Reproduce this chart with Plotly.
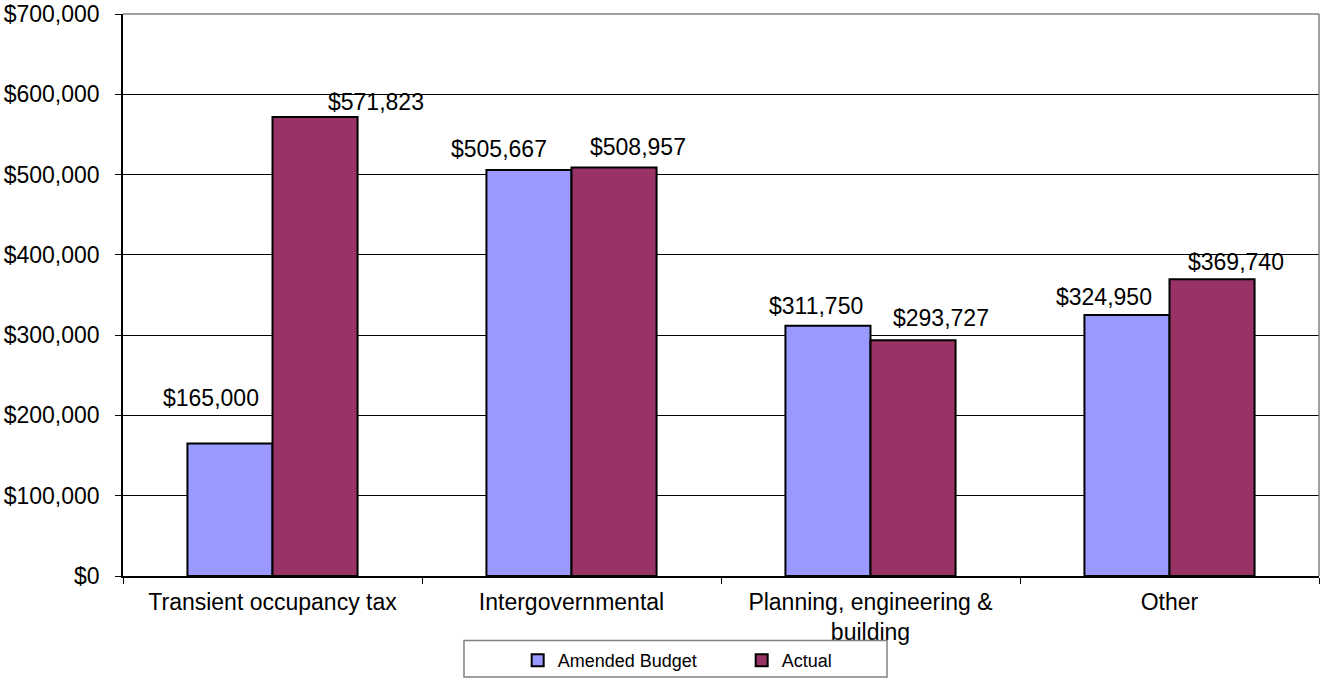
import plotly.graph_objects as go

# Revenue categories and amounts
categories = [
    "Transient occupancy tax",
    "Intergovernmental",
    "Planning, engineering &<br>building",
    "Other",
]
amended_budget = [165000, 505667, 311750, 324950]
actual = [571823, 508957, 293727, 369740]

# y-axis ticks
y_ticks = [0, 100000, 200000, 300000, 400000, 500000, 600000, 700000]

# pixel offsets of each value label from the category centre / bar top
budget_label_dx = [-61.5, -72.5, -55, -65.5]
budget_label_dy = [45.6, 21, 20, 18]
actual_label_dx = [103.5, 66, 70.5, 66.5]
actual_label_dy = [15, 20, 22, 17.6]

FONT = "Liberation Sans, Arial, sans-serif"
BLUE = "#9999FF"
PLUM = "#993366"
TEXT_SIZE = 23

fig = go.Figure()
fig.add_trace(go.Bar(
    name="Amended Budget", x=categories, y=amended_budget,
    marker=dict(color=BLUE, line=dict(color="#000000", width=2)),
))
fig.add_trace(go.Bar(
    name="Actual", x=categories, y=actual,
    marker=dict(color=PLUM, line=dict(color="#000000", width=2)),
))

annotations = []
for series, dxs, dys in [(amended_budget, budget_label_dx, budget_label_dy),
                         (actual, actual_label_dx, actual_label_dy)]:
    for cat, v, dx, dy in zip(categories, series, dxs, dys):
        annotations.append(dict(
            x=cat, y=v, xref="x", yref="y", text=f"${v:,}",
            showarrow=False, xshift=dx, yshift=dy,
            font=dict(family=FONT, size=TEXT_SIZE, color="#000000"),
        ))

shapes = [
    # plot-area border (top and right)
    dict(type="line", xref="paper", yref="paper", x0=0, x1=1, y0=1, y1=1,
         line=dict(color="#808080", width=1.5), layer="above"),
    dict(type="line", xref="paper", yref="paper", x0=1, x1=1, y0=0, y1=1,
         line=dict(color="#808080", width=1.5), layer="above"),
    # legend frame
    dict(type="rect", xref="paper", yref="paper",
         x0=0.2851, x1=0.6388, y0=-0.1148, y1=-0.1797,
         line=dict(color="#808080", width=1.5), fillcolor="rgba(0,0,0,0)",
         layer="above"),
]

fig.update_layout(
    width=1321, height=679,
    margin=dict(l=123, r=2, t=14, b=103, autoexpand=False),
    paper_bgcolor="#FFFFFF", plot_bgcolor="#FFFFFF",
    font=dict(family=FONT, size=TEXT_SIZE, color="#000000"),
    barmode="group", bargap=0.431, bargroupgap=0,
    showlegend=True,
    legend=dict(
        orientation="h", x=0.3300, xanchor="left",
        yref="container", y=0.027, yanchor="middle",
        bgcolor="rgba(0,0,0,0)", borderwidth=0,
        entrywidth=179, entrywidthmode="pixels",
        font=dict(family=FONT, size=18, color="#000000"),
        traceorder="normal",
    ),
    annotations=annotations,
    shapes=shapes,
)

fig.update_xaxes(
    showline=True, linecolor="#000000", linewidth=1.5,
    ticks="outside", tickson="boundaries", ticklen=6, tickcolor="#000000",
    showgrid=False, ticklabelstandoff=5,
    tickfont=dict(family=FONT, size=TEXT_SIZE, color="#000000"),
)
fig.update_yaxes(
    range=[0, 700000], tickvals=y_ticks, tickformat="$,.0f",
    showline=True, linecolor="#000000", linewidth=1.5,
    ticks="outside", ticklen=6, tickcolor="#000000",
    showgrid=True, gridcolor="#000000", gridwidth=1,
    zeroline=False, ticklabelstandoff=11,
    tickfont=dict(family=FONT, size=TEXT_SIZE, color="#000000"),
)

fig.write_html("out.html")
